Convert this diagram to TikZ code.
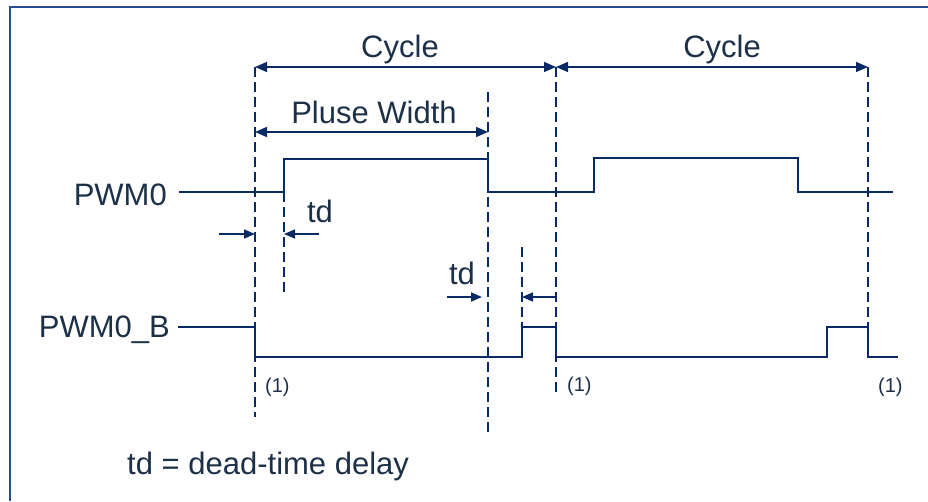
\documentclass[tikz,border=0pt]{standalone}
\usepackage{fontspec}
\setmainfont{Liberation Sans}
\usetikzlibrary{arrows.meta,positioning}
\definecolor{navy}{HTML}{0A2A66}
\definecolor{ink}{HTML}{1C3048}
\definecolor{rim}{HTML}{2A4B8D}
\colorlet{wave}{navy}

\begin{document}
\begin{tikzpicture}[x=1pt,y=-1pt,
              sig/.style={wave,line width=1.8pt},
              guide/.style={wave,line width=1.6pt,dash pattern=on 10pt off 5pt},
              span/.style={wave,line width=1.6pt,
                {Triangle[length=12pt,width=10pt]}-{Triangle[length=12pt,width=10pt]}},
              tdarr/.style={wave,line width=1.6pt,-{Triangle[length=11pt,width=9pt]}},
              lab/.style={font=\fontsize{31}{36}\selectfont,text=ink,inner sep=0},
              note/.style={font=\fontsize{20}{24}\selectfont,text=ink,inner sep=0}]
              \useasboundingbox (0,0) rectangle (928,501);
              \draw[rim,line width=2.2pt] (10,501) -- (10,7) -- (928,7);
              % edges of the cycles
              \coordinate (c0) at (255,67);
              \coordinate (c1) at (556,67);
              \coordinate (c2) at (868,67);
              \coordinate (p0) at (255,132);
              \coordinate (p1) at (488,132);
              \draw[span] (c0) -- (c1);
              \draw[span] (c1) -- (c2);
              \draw[span] (p0) -- (p1);
              \node[lab,anchor=base] (cyc1) at (400,57) {Cycle};
              \node[lab,anchor=base] (cyc2) at (722,57) {Cycle};
              \node[lab,anchor=base] (pw) at (374,123) {Pluse Width};
              % dashed guides
              \foreach \x/\a/\b in {255/67/417, 284/192/292, 488/92/435,
                                    522/247/327, 556/67/393, 868/67/327}
                \draw[guide] (\x,\a) -- (\x,\b);
              % signals
              \node[lab,anchor=base east] (pwm) at (167,205) {PWM0};
              \node[lab,anchor=base east] (pwmb) at (170,337) {PWM0\_B};
              \draw[sig] (179,192) -| (284,159) -| (488,192) -| (594,158)
                -| (798,192) -- (893,192);
              \draw[sig] (178,327) -| (255,357) -| (522,327) -| (556,357)
                -| (827,327) -| (868,357) -- (898,357);
              % dead time
              \coordinate (d0) at (219,234);
              \coordinate (d1) at (255,234);
              \coordinate (d2) at (319,234);
              \coordinate (d3) at (284,234);
              \draw[tdarr] (d0) -- (d1);
              \draw[tdarr] (d2) -- (d3);
              \node[lab,anchor=base] (td1) at (320,222) {td};
              \coordinate (e0) at (447,297);
              \coordinate (e1) at (482,297);
              \coordinate (e2) at (556,297);
              \coordinate (e3) at (522,297);
              \draw[tdarr] (e0) -- (e1);
              \draw[tdarr] (e2) -- (e3);
              \node[lab,anchor=base] (td2) at (462,284) {td};
              \node[note,anchor=base west] (m1) at (265,392) {(1)};
              \node[note,anchor=base west] (m2) at (567,391) {(1)};
              \node[note,anchor=base west] (m3) at (878,392) {(1)};
              \node[lab,anchor=base west] (key) at (127,474) {td = dead-time delay};
            \end{tikzpicture}
\end{document}
